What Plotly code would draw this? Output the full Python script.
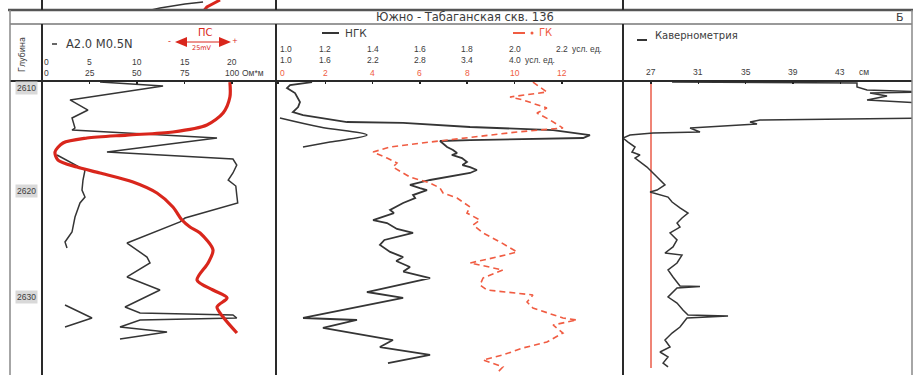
import plotly.graph_objects as go

W, H = 914, 375
def px(x):
    return x / W
def py(y):
    return 1 - y / H

# ---------------- data ----------------
# Track 1: A2.0 M0.5N apparent resistivity, 0-20 Ohm*m scale
res20_depth = [2609.72, 2610.09, 2611.41, 2612.36, 2613.11, 2614.06, 2614.25, 2615.00, 2616.32,
               2616.98, 2617.55, 2618.30, 2618.96, 2619.53, 2620.38, 2621.13, 2622.55, 2622.92,
               2624.91, 2626.23, 2626.79, 2628.11, 2629.34, 2630.94, 2631.51, 2631.70, 2631.98,
               2632.17, 2632.83, 2633.30, 2633.96]
res20_val = [6.11, 12.74, 2.95, 4.84, 3.16, 3.47, 3.16, 18.42, 6.84,
             20.1, 20.5, 20.1, 19.6, 20.4, 20.5, 20.6, 15.05, 14.53,
             8.95, 11.05, 11.37, 8.95, 12.42, 8.74, 10.32, 20.1, 20.5,
             10.32, 8.21, 13.16, 8.21]
# same curve on the 0-100 Ohm*m scale (visible parts)
res100_depth = [2616.60, 2617.08, 2618.02, 2618.96, 2619.91, 2620.57, 2621.13, 2622.45, 2623.40,
                2623.87, 2624.81, 2625.38, None, 2630.76, 2631.98, 2632.83]
res100_val = [7.89, 13.16, 22.63, 21.58, 21.05, 22.63, 20.0, 17.37, 16.32,
              15.79, 12.11, 13.16, None, 12.11, 26.32, 12.11]
# PS (spontaneous potential), mV
ps_depth = [2609.72, 2611.13, 2612.64, 2613.77, 2614.43, 2614.72, 2615.00, 2615.47, 2616.32,
            2617.08, 2617.74, 2618.30, 2619.15, 2620.19, 2621.51, 2622.74, 2623.40, 2623.96,
            2625.57, 2626.79, 2628.40, 2629.34, 2630.09, 2630.94, 2631.89, 2633.40]
ps_val = [98.9, 98.9, 95.3, 86.8, 68.9, 44.7, 23.7, 11.05, 6.84,
          8.42, 18.4, 30.5, 47.9, 60.5, 68.9, 73.7, 77.9, 83.2,
          90.0, 87.4, 81.6, 90.0, 97.4, 92.1, 95.3, 102.6]

# Track 2: NGK (1.0-2.2 scale)
ngk_depth = [2609.72, 2610.00, 2610.28, 2610.76, 2611.60, 2612.08, 2612.55, 2612.83, 2613.49,
             2613.58, 2613.96, 2614.25, 2614.72, 2615.00, 2615.19, 2615.28, 2615.85, 2616.13,
             2616.42, 2616.60, 2616.89, 2617.26, 2617.55, 2617.74, 2618.02, 2618.30, 2618.96,
             2619.43, 2619.72, 2619.91, 2620.38, 2620.66, 2621.13, 2621.79, 2622.08, 2622.74,
             2623.02, 2623.58, 2623.96, 2624.62, 2625.09, 2625.75, 2626.23, 2626.60, 2627.17,
             2627.60, 2628.21, 2629.53, 2630.09, 2631.98, 2632.17, 2632.92, 2634.06, 2634.72,
             2635.47, 2636.23]
ngk_val = [1.144, 1.051, 1.038, 1.072, 1.093, 1.085, 1.063, 1.106, 1.292,
           1.529, 1.812, 2.163, 2.319, 2.290, 1.812, 1.685, 1.715, 1.740,
           1.757, 1.735, 1.778, 1.799, 1.780, 1.812, 1.841, 1.812, 1.643,
           1.558, 1.600, 1.630, 1.571, 1.580, 1.529, 1.474, 1.490, 1.402,
           1.461, 1.503, 1.571, 1.450, 1.431, 1.474, 1.529, 1.500, 1.558,
           1.530, 1.643, 1.376, 1.529, 1.106, 1.334, 1.190, 1.486, 1.431,
           1.643, 1.465]
# NGK on the 1.0-4.0 scale (visible part)
ngk2_depth = [2613.11, 2613.96, 2614.72, 2615.38, 2615.85]
ngk2_val = [1.025, 1.533, 2.129, 1.660, 1.317]
# GK (0-12 scale)
gk_depth = [2609.72, 2610.66, 2611.13, 2611.41, 2612.17, 2612.64, 2613.30, 2614.06, 2614.43,
            2614.91, 2615.38, 2615.85, 2616.32, 2616.89, 2617.36, 2617.74, 2618.68, 2619.25,
            2619.72, 2620.19, 2620.66, 2621.51, 2622.08, 2622.74, 2623.21, 2623.96, 2624.81,
            2625.75, 2626.23, 2626.79, 2627.45, 2628.21, 2628.87, 2629.34, 2629.81, 2630.47,
            2631.04, 2631.98, 2632.17, 2632.64, 2633.40, 2634.25, 2634.81, 2635.47, 2635.94,
            2636.60, 2637.17]
gk_val = [10.78, 11.37, 9.81, 10.36, 11.37, 10.95, 11.50, 12.05, 10.11,
          8.12, 6.43, 4.74, 4.02, 4.61, 5.03, 4.86, 5.58, 6.43,
          6.85, 6.98, 7.57, 8.12, 7.99, 8.54, 8.25, 8.67, 9.39,
          10.11, 9.26, 8.12, 9.51, 8.67, 8.54, 8.84, 10.78, 10.53,
          10.78, 12.05, 12.64, 11.63, 12.05, 11.37, 10.36, 9.51, 8.67,
          9.51, 9.26]

# Track 3: caliper, cm
cal_depth = [2609.72, 2609.81, 2610.19, 2610.47, 2610.66, 2610.76, 2611.04, 2611.41, 2611.70,
             2613.11, 2613.30, 2613.49, 2613.68, 2613.96, 2614.06, 2614.43, 2614.53, 2614.72,
             2615.00, 2615.38, 2615.85, 2616.32, 2616.60, 2616.89, 2617.74, 2618.68, 2619.43,
             2619.91, 2620.09, 2620.57, 2621.04, 2621.60, 2622.08, 2622.55, 2623.02, 2623.40,
             2623.96, 2624.62, 2625.28, 2625.85, 2626.04, 2626.79, 2627.45, 2628.11, 2628.68,
             2628.96, 2629.00, 2629.15, 2630.00, 2630.57, 2631.23, 2631.70, 2631.79, 2631.98,
             2632.83, 2633.40, 2634.06, 2634.72, 2635.19, 2635.66, 2636.23, 2636.60]
cal_val = [28.78, 44.41, 44.41, 45.26, 50.0, 45.51, 46.95, 45.26, 50.0,
           50.0, 36.21, 35.37, 35.96, 31.40, 30.30, 31.14, 27.17, 25.22,
           24.63, 25.06, 25.65, 25.39, 26.07, 25.65, 26.66, 27.51, 28.18,
           27.51, 26.92, 28.44, 28.78, 29.45, 30.13, 29.62, 29.20, 29.45,
           28.61, 29.20, 28.86, 28.18, 29.62, 29.20, 28.44, 28.86, 29.28,
           29.45, 31.14, 29.20, 28.44, 29.20, 29.70, 30.13, 33.51, 30.04,
           29.45, 28.78, 28.18, 28.61, 27.76, 28.44, 28.02, 28.44]
bit_size = 27
bit_depth = [2609.62, 2636.70]

# bottom of previous sheet (top strip)
prev_res_depth = [2608.25, 2608.44, 2608.81, 2609.0]
prev_res_val = [16.95, 15.05, 12.42, 11.5]
prev_ps_depth = [2608.06, 2608.44, 2608.72, 2609.0]
prev_ps_val = [93.7, 90.0, 86.8, 85.5]

# scales / tick labels
res_ticks_20 = [0, 5, 10, 15, 20]
res_ticks_100 = [0, 25, 50, 75, 100]
ngk_ticks_1 = [1.0, 1.2, 1.4, 1.6, 1.8, 2.0, 2.2]
ngk_ticks_2 = [1.0, 1.6, 2.2, 2.8, 3.4, 4.0]
gk_ticks = [0, 2, 4, 6, 8, 10, 12]
cal_ticks = [27, 31, 35, 39, 43]
depth_marks = [2610, 2620, 2630]

title = "Южно - Табаганская скв. 136"

# ---------------- figure ----------------
BLACK = "#353535"
RED = "#d9261c"
RED2 = "#f05c42"
TXT = "#3c3c3c"
FONT = "DejaVu Sans, sans-serif"
NUMFONT = "Liberation Sans, Arial, sans-serif"

fig = go.Figure()
fig.add_trace(go.Scatter(x=res20_val, y=res20_depth, xaxis="x", yaxis="y", mode="lines",
                         line=dict(color=BLACK, width=1.5)))
fig.add_trace(go.Scatter(x=res100_val, y=res100_depth, xaxis="x2", yaxis="y", mode="lines",
                         line=dict(color=BLACK, width=1.5), connectgaps=False))
fig.add_trace(go.Scatter(x=ps_val, y=ps_depth, xaxis="x2", yaxis="y", mode="lines",
                         line=dict(color=RED, width=3.2, shape="spline", smoothing=0.8)))
fig.add_trace(go.Scatter(x=ngk_val, y=ngk_depth, xaxis="x3", yaxis="y", mode="lines",
                         line=dict(color=BLACK, width=1.8)))
fig.add_trace(go.Scatter(x=ngk2_val, y=ngk2_depth, xaxis="x6", yaxis="y", mode="lines",
                         line=dict(color=BLACK, width=1.5, shape="spline")))
fig.add_trace(go.Scatter(x=gk_val, y=gk_depth, xaxis="x4", yaxis="y", mode="lines",
                         line=dict(color=RED2, width=1.6, dash="6px,4px")))
fig.add_trace(go.Scatter(x=[bit_size, bit_size], y=bit_depth, xaxis="x5", yaxis="y", mode="lines",
                         line=dict(color="#e8503c", width=1.4)))
fig.add_trace(go.Scatter(x=cal_val, y=cal_depth, xaxis="x5", yaxis="y", mode="lines",
                         line=dict(color=BLACK, width=1.5)))
fig.add_trace(go.Scatter(x=prev_res_val, y=prev_res_depth, xaxis="x", yaxis="y2", mode="lines",
                         line=dict(color=BLACK, width=1.4)))
fig.add_trace(go.Scatter(x=prev_ps_val, y=prev_ps_depth, xaxis="x2", yaxis="y2", mode="lines",
                         line=dict(color=RED, width=3.0)))

hidden = dict(visible=False)
tick_axis = dict(showgrid=False, zeroline=False, showline=False, showticklabels=False,
                 ticks="inside", ticklen=3, tickwidth=1.5, tickcolor="#222", tickmode="array")

fig.update_layout(
    width=W, height=H, autosize=False, showlegend=False,
    margin=dict(l=0, r=0, t=0, b=0),
    paper_bgcolor="white", plot_bgcolor="white",
    hovermode=False,
    xaxis=dict(domain=[px(42), px(276)], range=[0, 24.63], anchor="y", **hidden),
    xaxis2=dict(overlaying="x", range=[0, 123.16], anchor="y", side="top",
                tickvals=res_ticks_100, **tick_axis),
    xaxis3=dict(domain=[px(276), px(623)], range=[0.99154, 2.4588], anchor="y", **hidden),
    xaxis4=dict(overlaying="x3", range=[-0.0846, 14.588], anchor="y", side="top",
                tickvals=gk_ticks, **tick_axis),
    xaxis5=dict(domain=[px(623), px(912)], range=[24.633, 49.06], anchor="y", side="top",
                tickvals=cal_ticks, **tick_axis),
    xaxis6=dict(overlaying="x3", range=[0.9746, 5.3763], anchor="y", **hidden),
    yaxis=dict(domain=[0, py(81)], range=[2637.36, 2609.62], anchor="x", **hidden),
    yaxis2=dict(domain=[py(10), 1], range=[2609.0, 2608.06], anchor="x", **hidden),
)

shapes = []
def hline(y, x0, x1, w, c):
    shapes.append(dict(type="line", xref="paper", yref="paper", x0=px(x0), x1=px(x1),
                       y0=py(y), y1=py(y), line=dict(color=c, width=w)))
def vline(x, y0, y1, w, c):
    shapes.append(dict(type="line", xref="paper", yref="paper", x0=px(x), x1=px(x),
                       y0=py(y0), y1=py(y1), line=dict(color=c, width=w)))

# frame
hline(10, 8, 913, 2.5, "#555")
hline(24, 10, 912, 1.5, "#777")
hline(81, 10, 912, 2, "#2a2a2a")
for xx in (42, 276, 623):
    vline(xx, 0, 10, 2, "#2a2a2a")
    vline(xx, 24, 375, 2, "#2a2a2a")
vline(10, 24, 375, 1.5, "#888")
vline(912, 10, 375, 1.5, "#888")
vline(10, 10, 24, 1.5, "#888")

# legend marks
hline(44, 52, 57, 1.5, BLACK)
hline(33, 322, 339, 2, BLACK)
hline(33, 513, 525, 2, RED2)
hline(40, 637, 647, 2, BLACK)
shapes.append(dict(type="circle", xref="paper", yref="paper", x0=px(530.5), x1=px(533.5),
                   y0=py(34.5), y1=py(31.5), fillcolor=RED2, line=dict(width=0)))
# PS scale arrow
hline(42, 184, 221, 1, RED)
shapes.append(dict(type="path", xref="paper", yref="paper",
                   path=f"M {px(175)},{py(42)} L {px(187)},{py(37)} L {px(187)},{py(47)} Z",
                   fillcolor=RED, line=dict(width=0)))
shapes.append(dict(type="path", xref="paper", yref="paper",
                   path=f"M {px(231)},{py(42)} L {px(219)},{py(37)} L {px(219)},{py(47)} Z",
                   fillcolor=RED, line=dict(width=0)))
fig.update_layout(shapes=shapes)

ann = []
def text(x, y, t, size=8, color=TXT, xanchor="center", xref="paper", family=FONT, **kw):
    ann.append(dict(x=x if xref != "paper" else px(x), y=py(y), xref=xref, yref="paper",
                    text=t, showarrow=False, xanchor=xanchor, yanchor="middle",
                    font=dict(family=family, size=size, color=color), **kw))

text(465, 17, title, size=11.5)
text(900, 17, "Б", size=11)
text(22, 55, "Глубина", size=8, textangle=-90)

text(64, 44, "A2.0 M0.5N", size=11.5, xanchor="left")
text(205, 32, "ПС", size=10, color=RED)
text(202, 48, "25mV", size=6.5, color=RED)
text(169, 42, "-", size=8, color=RED)
text(235, 41, "+", size=7, color=RED)
for v in res_ticks_20:
    text(v, 61.5, str(v), size=8.5, xref="x", family=NUMFONT, xanchor="left" if v == 0 else "center")
for v in res_ticks_100:
    text(v, 72.5, str(v), size=8.5, xref="x2", family=NUMFONT, xanchor="left" if v == 0 else "center")
text(240, 72.5, "Ом*м", size=8.5, xanchor="left", family=NUMFONT)

text(343, 33, "НГК", size=10.5, xanchor="left")
text(537, 33, "ГК", size=10, color=RED2, xanchor="left")
for v in ngk_ticks_1:
    text(v, 49, f"{v:.1f}", size=8.5, xref="x3", family=NUMFONT, xanchor="left" if v == 1.0 else "center")
text(570, 49, "усл. ед.", size=8.5, xanchor="left", family=NUMFONT)
for v in ngk_ticks_2:
    text(v, 59.5, f"{v:.1f}", size=8.5, xref="x6", family=NUMFONT, xanchor="left" if v == 1.0 else "center")
text(523, 59.5, "усл. ед.", size=8.5, xanchor="left", family=NUMFONT)
for v in gk_ticks:
    text(v, 73, str(v), size=8.5, color=RED2, xref="x4", family=NUMFONT, xanchor="left" if v == 0 else "center")

text(653, 36, "Кавернометрия", size=10, xanchor="left")
for v in cal_ticks:
    text(v, 71.5, str(v), size=8.5, xref="x5", family=NUMFONT)
text(857, 71.5, "см", size=8.5, xanchor="left", family=NUMFONT)

for d in depth_marks:
    ann.append(dict(x=px(26), y=d, xref="paper", yref="y", text=str(d), showarrow=False,
                    xanchor="center", yanchor="middle", bgcolor="#d9d9d9", borderpad=1,
                    yshift=-3 if d == depth_marks[0] else 0,
                    font=dict(family=NUMFONT, size=8.5, color=TXT)))

fig.update_layout(annotations=ann)
fig.write_html("out.html", config={"displayModeBar": False, "staticPlot": True},
               post_script="document.body.style.margin='0';document.body.style.overflow='hidden';")
